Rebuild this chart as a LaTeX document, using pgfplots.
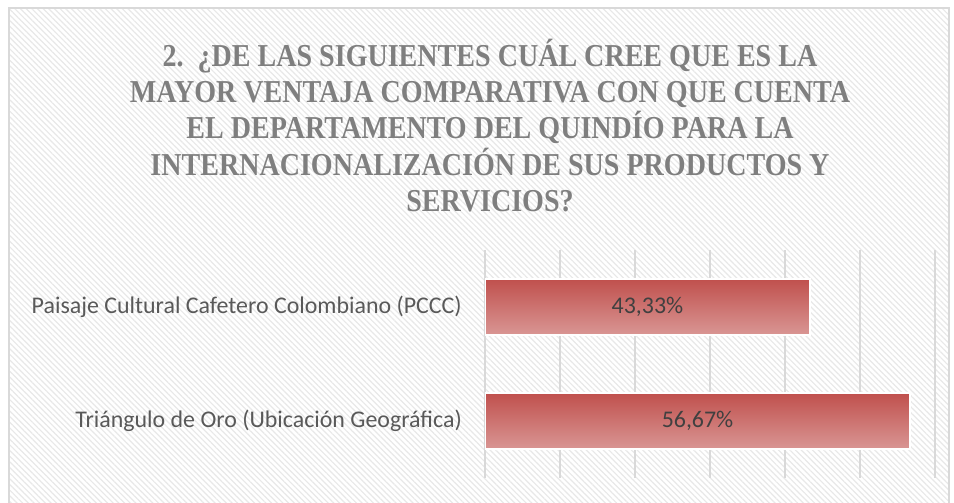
\documentclass[border=0pt]{standalone}
\usepackage{pgfplots}
\pgfplotsset{compat=1.18}
\usepackage{fontspec}
\setmainfont{Carlito}
\newfontfamily\titlefont[FakeStretch=0.88]{Liberation Serif}
\usetikzlibrary{patterns.meta}
\definecolor{barTop}{HTML}{C0504D}
\definecolor{barBot}{HTML}{D99694}
\definecolor{titlegray}{HTML}{7F7F7F}
\definecolor{labelgray}{HTML}{595959}
\definecolor{valgray}{HTML}{404040}
\definecolor{gridgray}{HTML}{D9D9D9}
\pgfplotsset{mybar/.style={xbar, bar width=56bp, bar shift=0pt, draw=white, line width=2bp,
    top color=barTop, bottom color=barBot, mark=none,
    point meta=explicit symbolic, nodes near coords,
    visualization depends on={x \as \xval},
    every node near coord/.append style={anchor=center, shift={(axis direction cs:-\xval/2,0)},
      font=\fontsize{24}{28}\selectfont, text=valgray}}}
\begin{document}
\begin{tikzpicture}[x=1bp,y=1bp]
\useasboundingbox (0,0) rectangle (954,503);
\fill[white] (0,0) rectangle (954,503);
\fill[pattern={Lines[angle=-45,distance=4bp,line width=1.2bp]}, pattern color=black!9] (9,0) rectangle (949,495);
\draw[black!15, line width=1.5bp] (9,-3) rectangle (949,495);
\node[align=center, font=\titlefont\bfseries\fontsize{32}{36.5}\selectfont, text=titlegray] at (490,377.5)
{2.\ \ ¿DE LAS SIGUIENTES CUÁL CREE QUE ES LA\\ MAYOR VENTAJA COMPARATIVA CON QUE CUENTA\\ EL DEPARTAMENTO DEL QUINDÍO PARA LA\\ INTERNACIONALIZACIÓN DE SUS PRODUCTOS Y\\ SERVICIOS?};
\begin{axis}[at={(485bp,25bp)}, anchor=south west, scale only axis,
  width=450bp, height=228bp,
  xmin=0, xmax=60, ymin=-0.5, ymax=1.5, y dir=reverse,
  xtick={0,10,...,60}, xticklabels={}, xmajorgrids,
  major grid style={gridgray, line width=1.5bp},
  axis line style={draw=none}, major tick length=0pt,
  ytick={0,1},
  yticklabels={Paisaje Cultural Cafetero Colombiano (PCCC), Triángulo de Oro (Ubicación Geográfica)},
  yticklabel style={font=\fontsize{24}{28}\selectfont, text=labelgray, inner sep=0pt, xshift=-23bp},
  ]
\addplot[mybar] coordinates {(43.33,0) [43{,}33\%]};
\addplot[mybar] coordinates {(56.67,1) [56{,}67\%]};
\end{axis}
\end{tikzpicture}
\end{document}
